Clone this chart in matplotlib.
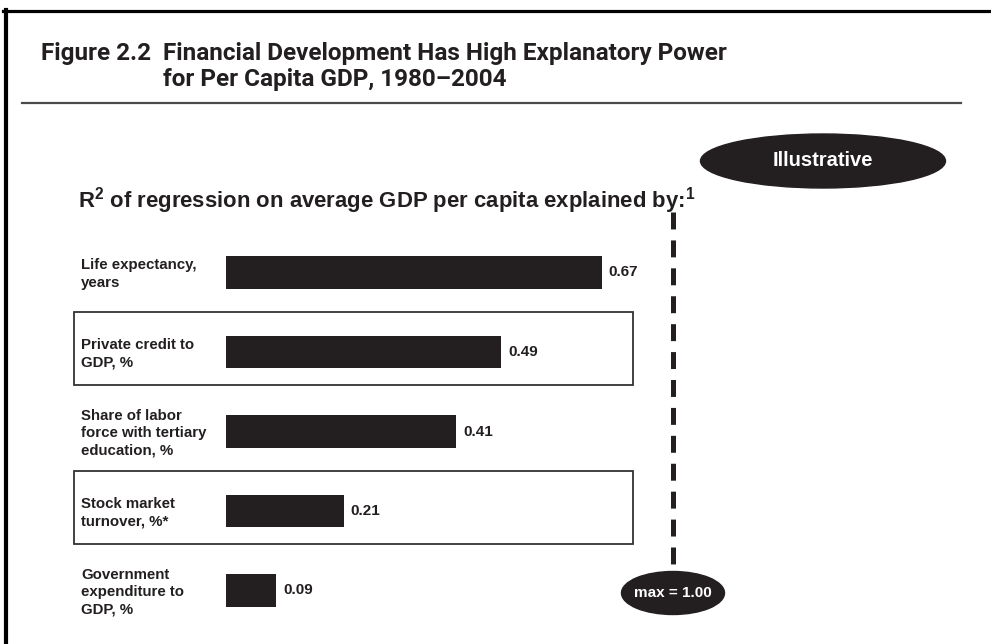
import matplotlib
matplotlib.use("Agg")
import matplotlib.pyplot as plt
from matplotlib.patches import Rectangle, Ellipse
from matplotlib.lines import Line2D
from matplotlib.transforms import blended_transform_factory

# ---------------- data ----------------
categories = [
    "Life expectancy,\nyears",
    "Private credit to\nGDP, %",
    "Share of labor\nforce with tertiary\neducation, %",
    "Stock market\nturnover, %*",
    "Government\nexpenditure to\nGDP, %",
]
r2_values = [0.67, 0.49, 0.41, 0.21, 0.09]
value_labels = ["0.67", "0.49", "0.41", "0.21", "0.09"]
highlighted = [1, 3]
title_num = "Figure 2.2"
title_line1 = "Financial Development Has High Explanatory Power"
title_line2 = "for Per Capita GDP, 1980\u20132004"
subtitle = r"R$^{2}$ of regression on average GDP per capita explained by:$^{1}$"
badge_text = "Illustrative"
max_text = "max = 1.00"

# ---------------- style ----------------
W, H = 991, 644
DARK = "#231f20"
plt.rcParams["mathtext.fontset"] = "custom"
plt.rcParams["mathtext.rm"] = "Liberation Sans:bold"
plt.rcParams["mathtext.it"] = "Liberation Sans:bold"
plt.rcParams["mathtext.bf"] = "Liberation Sans:bold"
plt.rcParams["lines.scale_dashes"] = False
SANS = "Liberation Sans"

fig = plt.figure(figsize=(W / 100, H / 100), dpi=100)
fig.patch.set_facecolor("white")

def fx(x):
    return x / W

def fy(y):
    return 1 - y / H

# main axes: x 0..1 maps to px 226..787, rows spaced 79.5 px
row = 79.5
top_px = 272.5 - row / 2
ax = fig.add_axes([fx(226), fy(top_px + 5 * row), 561 / W, 5 * row / H])
ax.set_xlim(0, 1)
ax.set_ylim(4.5, -0.5)
ax.axis("off")

ypos = list(range(len(categories)))
ax.barh(ypos, r2_values, height=0.415, color=DARK)
for i, (v, lab) in enumerate(zip(r2_values, value_labels)):
    ax.annotate(lab, (v, i), xytext=(7, 0), textcoords="offset pixels",
                va="center", ha="left", fontsize=11, fontweight="bold",
                family=SANS, color=DARK)

bt = blended_transform_factory(fig.transFigure, ax.transData)
for i, c in enumerate(categories):
    ax.text(fx(81), i + 0.02, c, transform=bt, va="center", ha="left",
            fontsize=10.8, fontweight="bold", family=SANS, color=DARK,
            linespacing=1.3)

for i in highlighted:
    rect = Rectangle((fx(74), i - 0.5), fx(633) - fx(74), 0.92,
                     transform=bt, fill=False, edgecolor="#333333",
                     linewidth=1.3, clip_on=False)
    ax.add_patch(rect)

# dashed "max" line
fig.add_artist(Line2D([fx(673), fx(673)], [fy(212), fy(572)],
                      color=DARK, linewidth=3.6, linestyle=(0, (12.2, 7.9)),
                      solid_capstyle="butt", dash_capstyle="butt"))

# ellipses
fig.add_artist(Ellipse((fx(823), fy(161)), 245 / W, 54 / H, color=DARK))
fig.text(fx(823), fy(161), badge_text, ha="center", va="center",
         fontsize=14.5, fontweight="bold", family=SANS, color="white")
fig.add_artist(Ellipse((fx(673), fy(593)), 103 / W, 43 / H, color=DARK))
fig.text(fx(673), fy(593), max_text, ha="center", va="center",
         fontsize=11, fontweight="bold", family=SANS, color="white")

# subtitle
sub = fig.text(fx(78), fy(201), subtitle, ha="left", va="center",
               fontsize=13.3, fontweight="bold", family=SANS, color=DARK)

# frame
fig.add_artist(Line2D([fx(3), 1], [fy(11), fy(11)], color="black", linewidth=2.3))
fig.add_artist(Line2D([fx(5.5), fx(5.5)], [fy(9.5), 0], color="black", linewidth=3.0))
# title rule
fig.add_artist(Line2D([fx(22), fx(961)], [fy(102.5), fy(102.5)],
                      color="#4a4a4a", linewidth=1.6))

# title
tprops = dict(family=["Roboto", "DejaVu Sans"],
              weight="semibold", fontsize=17.5, color=DARK)
fig.text(fx(41), fy(60), title_num, ha="left", va="baseline", **tprops)
fig.text(fx(163), fy(60), title_line1, ha="left", va="baseline", **tprops)
fig.text(fx(163), fy(86), title_line2, ha="left", va="baseline", **tprops)

fig.canvas.draw()
r = fig.canvas.get_renderer()
ws = sub.get_window_extent(r).width
sub.set_fontsize(13.3 * 619.0 / ws)

fig.savefig("out.png", dpi=100, facecolor="white")
